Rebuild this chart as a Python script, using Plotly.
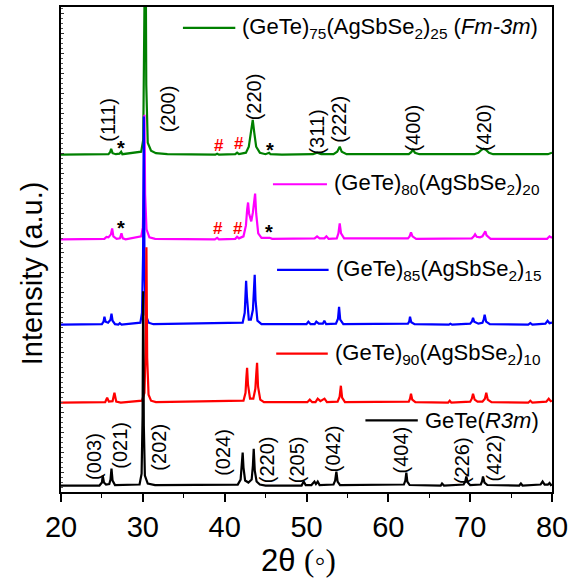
import plotly.graph_objects as go

# XRD patterns: (2theta, intensity above the pattern's own baseline), a.u.
gete_r3m = [
    (20.0, 0), (24.7, 0), (25.0, 3), (25.1, 10), (25.25, 3), (25.5, 1), (25.9, 1.5),
    (26.05, 6), (26.17, 17), (26.3, 5), (26.6, 0.5), (29.6, 1), (29.85, 12), (29.97, 70),
    (30.04, 195), (30.12, 60), (30.25, 10), (30.6, 2), (31.5, 0.5), (41.6, 1), (41.95, 6),
    (42.1, 20), (42.2, 33), (42.3, 18), (42.5, 5), (42.9, 3), (43.3, 6), (43.45, 20),
    (43.55, 37), (43.68, 15), (43.9, 4), (44.3, 1), (45.0, 0), (49.4, 0), (49.66, 4),
    (49.9, 0.5), (50.6, 0.5), (50.97, 4), (51.15, 1.5), (51.37, 4), (51.6, 0.5), (53.3, 1),
    (53.5, 5), (53.65, 14), (53.8, 4), (54.1, 0.5), (61.9, 1), (62.08, 5), (62.2, 13),
    (62.32, 4), (62.6, 0.5), (66.4, 0), (66.56, 2), (66.8, 0), (69.2, 1), (69.4, 4),
    (69.53, 9), (69.7, 3), (70.0, 0.5), (71.3, 1), (71.45, 4), (71.57, 9), (71.75, 3),
    (72.1, 0.5), (76.0, 0), (76.2, 2), (76.4, 0), (78.6, 1), (78.85, 4), (79.1, 1),
    (79.5, 1), (79.7, 2.5), (79.85, 0.5), (80.0, 1),
]
gete90 = [
    (20.0, 0), (25.4, 0.5), (25.64, 5), (25.85, 1), (26.3, 1.5), (26.53, 10), (26.75, 1),
    (27.3, 0), (29.9, 2), (30.2, 10), (30.33, 50), (30.44, 156), (30.53, 45), (30.7, 8),
    (31.0, 2), (31.6, 0.5), (42.3, 2), (42.55, 10), (42.65, 25), (42.74, 35), (42.85, 18),
    (43.1, 4), (43.5, 4), (43.75, 14), (43.87, 30), (43.96, 40), (44.08, 16), (44.35, 3),
    (44.8, 0.5), (50.1, 0.5), (50.4, 3), (50.7, 0.5), (51.1, 0.5), (51.37, 4), (51.7, 1.5),
    (52.2, 4), (52.5, 0.5), (53.8, 1), (54.05, 6), (54.2, 17), (54.35, 5), (54.7, 0.5),
    (62.5, 1), (62.65, 4), (62.77, 9), (62.92, 3), (63.3, 0.5), (67.3, 0), (67.5, 2),
    (67.7, 0), (70.0, 1), (70.2, 4), (70.35, 9), (70.55, 3), (70.9, 1), (71.5, 1),
    (71.8, 4), (71.97, 10), (72.15, 3), (72.6, 0.5), (77.1, 0), (77.35, 2), (77.6, 0),
    (79.3, 1), (79.6, 4), (79.85, 1.5), (80.0, 2),
]
gete85 = [
    (20.0, 0), (25.0, 0.5), (25.2, 3), (25.31, 8), (25.45, 3), (25.75, 2), (26.05, 5),
    (26.17, 11), (26.3, 4), (26.6, 0.5), (27.0, 0), (27.18, 1.5), (27.4, 0), (29.7, 2),
    (29.9, 12), (30.03, 70), (30.12, 209), (30.2, 60), (30.35, 10), (30.7, 2), (31.3, 0.5),
    (42.2, 2), (42.45, 12), (42.55, 30), (42.62, 44), (42.72, 28), (42.95, 5), (43.2, 5),
    (43.45, 15), (43.58, 35), (43.67, 50), (43.77, 25), (44.0, 4), (44.5, 0.5), (50.0, 0.5),
    (50.23, 3), (50.5, 0.5), (51.0, 0.5), (51.2, 3), (51.5, 1), (52.0, 1), (52.18, 4),
    (52.4, 0.5), (53.6, 1), (53.85, 6), (53.98, 18), (54.12, 5), (54.5, 0.5), (62.4, 1),
    (62.55, 3), (62.65, 8), (62.8, 2.5), (63.2, 0.5), (67.4, 0), (67.58, 1), (67.8, 0),
    (70.0, 1), (70.2, 3), (70.35, 7), (70.5, 3), (71.0, 1), (71.5, 2), (71.65, 5),
    (71.77, 10), (71.95, 3), (72.4, 0.5), (77.1, 0), (77.35, 1.5), (77.6, 0), (79.2, 1),
    (79.46, 4), (79.7, 1.5), (80.0, 2),
]
gete80 = [
    (20.0, 0), (25.3, 0.5), (25.56, 2.5), (25.8, 2), (26.1, 5), (26.25, 11), (26.4, 3),
    (26.8, 0.5), (27.2, 1), (27.39, 6), (27.55, 1), (27.9, 0), (29.8, 3), (30.0, 12),
    (30.11, 50), (30.2, 125), (30.28, 45), (30.45, 10), (30.8, 2), (31.5, 0.5), (38.8, 0),
    (39.08, 1.5), (39.3, 0), (41.3, 0.5), (41.52, 2.5), (41.75, 1), (42.3, 3), (42.6, 14),
    (42.75, 30), (42.86, 37), (42.98, 26), (43.25, 18), (43.45, 27), (43.6, 42), (43.72, 46),
    (43.85, 26), (44.1, 6), (44.5, 1.5), (45.3, 1), (45.5, 1.5), (45.8, 0.5), (50.0, 0.5),
    (50.27, 1), (50.6, 0.5), (51.0, 1), (51.29, 3), (51.6, 1), (52.2, 1), (52.43, 3),
    (52.7, 0.5), (53.7, 1), (53.9, 6), (54.06, 16), (54.22, 6), (54.6, 1), (62.4, 1),
    (62.6, 3), (62.77, 7), (62.95, 3), (63.4, 0.5), (70.2, 1), (70.45, 3), (70.6, 5),
    (70.8, 2.5), (71.2, 2), (71.5, 3), (71.7, 6), (71.85, 8), (72.0, 4), (72.5, 0.5),
    (79.4, 0.5), (79.7, 3), (79.9, 2), (80.0, 2),
]
gete75 = [
    (20.0, 0), (25.8, 0.5), (26.0, 2.5), (26.13, 6), (26.3, 1.5), (26.7, 0.5), (27.15, 1),
    (27.35, 3), (27.5, 0.5), (29.8, 3), (30.05, 15), (30.2, 80), (30.32, 260), (30.42, 70),
    (30.6, 12), (31.0, 4), (31.6, 1.5), (33.0, 0.5), (38.85, 0), (39.08, 1), (39.3, 0),
    (41.3, 0.5), (41.52, 2), (41.75, 0.5), (42.6, 2), (42.95, 8), (43.2, 22), (43.43, 35),
    (43.62, 22), (43.85, 8), (44.3, 2), (45.0, 0.5), (45.43, 2), (45.6, 0.5), (47.0, 0),
    (50.8, 0.5), (51.29, 2), (51.8, 0.5), (53.3, 0.5), (53.75, 3), (54.06, 8), (54.3, 3),
    (54.9, 0.5), (62.5, 0.5), (62.8, 2.5), (63.0, 5), (63.25, 2), (63.8, 0.5), (70.5, 0.5),
    (71.0, 2), (71.4, 5), (71.65, 6), (71.9, 5), (72.3, 2), (72.8, 0.5), (79.5, 0.5),
    (80.0, 2),
]

series_names = [
    "(GeTe)<sub>75</sub>(AgSbSe<sub>2</sub>)<sub>25</sub> (<i>Fm-3m</i>)",
    "(GeTe)<sub>80</sub>(AgSbSe<sub>2</sub>)<sub>20</sub>",
    "(GeTe)<sub>85</sub>(AgSbSe<sub>2</sub>)<sub>15</sub>",
    "(GeTe)<sub>90</sub>(AgSbSe<sub>2</sub>)<sub>10</sub>",
    "GeTe(<i>R3m</i>)",
]
series_data = [gete75, gete80, gete85, gete90, gete_r3m]
stack_offsets = [338.7, 253.7, 168.0, 89.7, 6.5]

# Miller indices: (label, 2theta, height of label centre)
hkl_cubic = [
    ("(111)", 25.64, 374), ("(200)", 33.05, 385), ("(220)", 43.55, 397),
    ("(311)", 51.29, 361), ("(222)", 53.86, 374), ("(400)", 62.9, 365),
    ("(420)", 71.64, 366),
]
hkl_rhombo = [
    ("(003)", 24.0, 36), ("(021)", 27.27, 47), ("(202)", 32.03, 45),
    ("(024)", 39.76, 40), ("(220)", 45.19, 32), ("(205)", 48.85, 32),
    ("(042)", 53.25, 43), ("(404)", 61.59, 42), ("(226)", 69.0, 32),
    ("(422)", 72.95, 34),
]
# impurity markers: (symbol, 2theta, height)
impurity_marks = [
    ("*", 27.39, 350), ("#", 39.27, 348), ("#", 41.72, 350), ("*", 45.5, 348),
    ("*", 27.39, 270), ("#", 39.2, 265), ("#", 41.59, 265), ("*", 45.39, 266),
]

colors = ["#008000", "#FF00FF", "#0000FF", "#FF0000", "#000000"]
# legend anchor per series: (line start 2theta, line end 2theta, height)
legend_pos = [
    (34.9, 41.3, 466), (45.9, 52.5, 309), (46.4, 52.7, 223), (46.3, 52.6, 139),
    (57.2, 63.6, 72),
]

FONT = "Liberation Sans, Arial, sans-serif"
SERIF = "Liberation Serif, Times New Roman, serif"

fig = go.Figure()
for name, pts, off, col in zip(series_names, series_data, stack_offsets, colors):
    fig.add_trace(go.Scatter(
        x=[p[0] for p in pts], y=[p[1] + off for p in pts], mode="lines",
        line=dict(color=col, width=2.2), name=name, showlegend=False,
    ))

annotations = []
shapes = []
for (x0, x1, yy), name, col in zip(legend_pos, series_names, colors):
    shapes.append(dict(type="line", xref="x", yref="y", x0=x0, x1=x1, y0=yy, y1=yy,
                       line=dict(color=col, width=2.2)))
    annotations.append(dict(x=x1 + 0.6, y=yy, xref="x", yref="y", text=name,
                            showarrow=False, xanchor="left", yanchor="middle",
                            font=dict(family=FONT, size=22, color="black")))

for lab, xx, yy in hkl_cubic + hkl_rhombo:
    annotations.append(dict(x=xx, y=yy, xref="x", yref="y", text=lab, textangle=-90,
                            showarrow=False, font=dict(family=FONT, size=20, color="black")))

for sym, xx, yy in impurity_marks:
    col = "#FF0000" if sym == "#" else "#000000"
    shift = -5 if sym == "*" else 0
    annotations.append(dict(x=xx, y=yy, xref="x", yref="y", text="<b>%s</b>" % sym,
                            showarrow=False, yshift=shift,
                            font=dict(family=FONT, size=17 if sym == "#" else 20, color=col)))

# axis titles
annotations.append(dict(
    x=-0.06, y=0.45, xref="paper", yref="paper", textangle=-90, showarrow=False,
    xanchor="center", yanchor="middle", text="Intensity (a.u.)",
    font=dict(family=FONT, size=29, color="black"),
))
annotations.append(dict(
    x=0.483, y=-0.142, xref="paper", yref="paper", showarrow=False,
    xanchor="center", yanchor="middle",
    text='2θ <span style="font-family:%s">(◦)</span>' % SERIF,
    font=dict(family=FONT, size=31, color="black"),
))

fig.update_layout(
    width=575, height=581,
    margin=dict(l=61, r=23, t=5, b=89),
    paper_bgcolor="white", plot_bgcolor="white",
    font=dict(family=FONT, color="black"),
    shapes=shapes, annotations=annotations,
    showlegend=False,
)
fig.update_xaxes(
    range=[20, 80], tickmode="linear", tick0=20, dtick=10,
    ticks="outside", ticklen=8, tickwidth=1.5, tickcolor="black",
    minor=dict(ticks="outside", ticklen=4, dtick=5, tickcolor="black", tickwidth=1),
    showline=True, linecolor="black", linewidth=2, mirror=True,
    showgrid=False, zeroline=False,
    tickfont=dict(family=FONT, size=29),
)
fig.update_yaxes(
    range=[0, 487], showticklabels=False,
    ticks="inside", ticklen=3, tickwidth=1, tickcolor="#333", dtick=20, tick0=0,
    minor=dict(ticks="inside", ticklen=2, dtick=5, tickcolor="#555"),
    showline=True, linecolor="black", linewidth=2, mirror=True,
    showgrid=False, zeroline=False,
)

fig.write_html("out.html")
